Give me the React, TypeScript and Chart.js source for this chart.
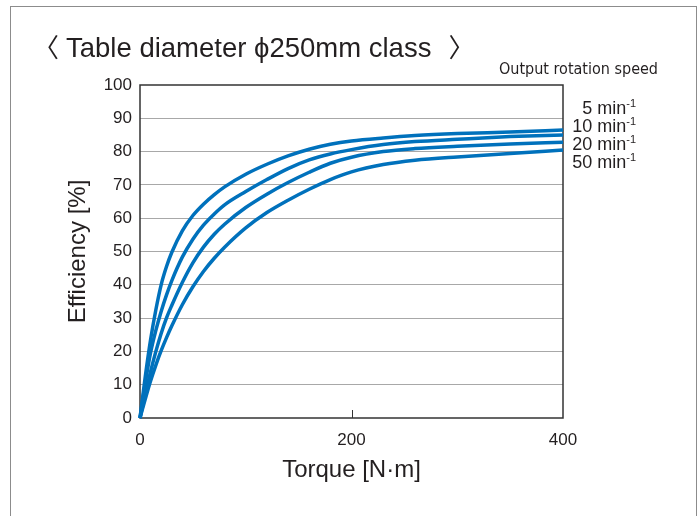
import React, { useEffect, useRef } from "react";
import { Chart, registerables } from "chart.js";

Chart.register(...registerables);

// ---- Data ----
const speedLabels = ["5", "10", "20", "50"];

const torque = [0, 5, 10, 15, 20, 25, 30, 40, 50, 60, 70, 80, 100, 120, 140, 160, 180, 200, 230, 260, 300, 350, 400];

// Efficiency [%] per output rotation speed
const eff5 = [0, 12.5, 23.5, 32.5, 40, 45.4, 49.7, 56.2, 60.8, 64.2, 67, 69.4, 73.2, 76.2, 78.7, 80.7, 82.2, 83.2, 84.1, 84.8, 85.4, 85.9, 86.5];
const eff10 = [0, 10.5, 19.6, 26.3, 32, 36.9, 41.2, 48.3, 53.7, 57.9, 61.2, 64, 68, 71.6, 74.9, 77.5, 79.3, 80.6, 82.1, 83, 83.7, 84.5, 85];
const eff20 = [0, 7.1, 13.9, 20, 25.4, 30, 33.8, 40.7, 46.6, 51.3, 55.1, 58.2, 63.2, 67.2, 70.7, 73.8, 76.5, 78.3, 80, 80.9, 81.6, 82.3, 82.8];
const eff50 = [0, 5.7, 11.1, 15.9, 20.2, 24.05, 27.6, 34, 39.4, 44, 47.9, 51.3, 57.1, 61.7, 65.4, 68.7, 71.6, 73.9, 76.1, 77.4, 78.4, 79.4, 80.5];

const xTicks = [0, 200, 400];
const yTicks = [0, 10, 20, 30, 40, 50, 60, 70, 80, 90, 100];

const titleText = "Table diameter ϕ250mm class";
const legendTitle = "Output rotation speed";
const xTitle = "Torque [N·m]";
const yTitle = "Efficiency [%]";

const BLUE = "#0071bc";
const TEXT = "#231f20";
const FONT = "'Liberation Sans', Arial, Helvetica, sans-serif";
const CJK = "'Noto Sans CJK JP', sans-serif";

const toPoints = (xs: number[], ys: number[]) => xs.map((x, i) => ({ x, y: ys[i] }));

const series = [eff5, eff10, eff20, eff50].map((e) => toPoints(torque, e));

const framePlugin = {
  id: "frame",
  beforeDraw(chart: any) {
    const ctx = chart.ctx;
    ctx.save();
    ctx.fillStyle = "#fff";
    ctx.fillRect(0, 0, chart.width, chart.height);
    ctx.strokeStyle = "#8c8c8c";
    ctx.lineWidth = 1;
    ctx.strokeRect(10.5, 6.5, 686, 620);
    ctx.restore();
  },
  beforeDatasetsDraw(chart: any) {
    const { ctx, chartArea: a, scales } = chart;
    ctx.save();
    ctx.strokeStyle = "#333";
    ctx.lineWidth = 1.5;
    ctx.strokeRect(a.left, a.top, a.right - a.left, a.bottom - a.top);
    ctx.lineWidth = 1;
    const x200 = Math.round(scales.x.getPixelForValue(200)) + 0.5;
    ctx.beginPath();
    ctx.moveTo(x200, a.bottom);
    ctx.lineTo(x200, a.bottom - 8);
    ctx.stroke();
    ctx.restore();
  },
  afterDraw(chart: any) {
    const { ctx } = chart;
    ctx.save();
    ctx.fillStyle = TEXT;
    ctx.textBaseline = "alphabetic";
    // Title with angle brackets
    ctx.font = `26px ${CJK}`;
    ctx.textAlign = "left";
    ctx.fillText("〈", 33, 57);
    ctx.font = `27.5px ${FONT}`;
    ctx.fillText(titleText, 66, 57);
    const tw = ctx.measureText(titleText).width;
    ctx.font = `26px ${CJK}`;
    ctx.fillText("〉", 66 + tw + 17, 57);
    // Legend title
    ctx.font = `16px 'Liberation Sans Narrow', 'DejaVu Sans Condensed', ${FONT}`;
    ctx.textAlign = "right";
    ctx.fillText(legendTitle, 658, 74);
    // Right labels
    const rightX = 636;
    const base = [114, 132, 150, 168];
    speedLabels.forEach((s, i) => {
      ctx.font = `11px ${FONT}`;
      ctx.textAlign = "right";
      const sup = "-1";
      const sw = ctx.measureText(sup).width;
      ctx.fillText(sup, rightX, base[i] - 7);
      ctx.font = `18px ${FONT}`;
      ctx.fillText(`${s} min`, rightX - sw, base[i]);
    });
    ctx.restore();
  },
};

export default function App() {
  const ref = useRef<HTMLCanvasElement>(null);
  useEffect(() => {
    const chart = new Chart(ref.current!, {
      type: "line",
      data: {
        datasets: series.map((pts, i) => ({
          label: speedLabels[i] + " min-1",
          data: pts,
          borderColor: BLUE,
          backgroundColor: BLUE,
          borderWidth: 3.5,
          pointRadius: 0,
          fill: false,
          cubicInterpolationMode: "monotone" as const,
          clip: 6,
        })),
      },
      options: {
        responsive: false,
        animation: false,
        devicePixelRatio: 1,
        layout: { padding: { left: 60, right: 136, top: 85, bottom: 31 } },
        plugins: { legend: { display: false }, tooltip: { enabled: false }, title: { display: false } },
        scales: {
          x: {
            type: "linear",
            min: 0,
            max: 400,
            afterBuildTicks: (s: any) => {
              s.ticks = xTicks.map((v) => ({ value: v }));
            },
            afterFit: (s: any) => {
              s.height = 67;
            },
            grid: { display: false, drawTicks: false },
            border: { display: false },
            ticks: { color: TEXT, font: { size: 17, family: FONT }, padding: 12, maxRotation: 0 },
            title: {
              display: true,
              text: xTitle,
              color: TEXT,
              font: { size: 24, family: FONT },
              padding: { top: 0, bottom: 0 },
            },
          },
          y: {
            type: "linear",
            min: 0,
            max: 100,
            afterBuildTicks: (s: any) => {
              s.ticks = yTicks.map((v) => ({ value: v }));
            },
            afterFit: (s: any) => {
              s.width = 80;
            },
            grid: {
              drawTicks: false,
              color: (c: any) => (c.tick && (c.tick.value === 0 || c.tick.value === 100) ? "rgba(0,0,0,0)" : "#a8a8a8"),
              lineWidth: 1,
            },
            border: { display: false },
            ticks: { color: TEXT, font: { size: 17, family: FONT }, padding: 8 },
            title: {
              display: true,
              text: yTitle,
              color: TEXT,
              font: { size: 24, family: FONT },
              padding: { top: 3.6, bottom: 0 },
            },
          },
        },
      },
      plugins: [framePlugin],
    } as any);
    return () => chart.destroy();
  }, []);
  return (
    <div style={{ position: "fixed", left: 0, top: 0, width: 699, height: 516, background: "#fff" }}>
      <canvas ref={ref} width={699} height={516} style={{ width: 699, height: 516, display: "block" }} />
    </div>
  );
}
